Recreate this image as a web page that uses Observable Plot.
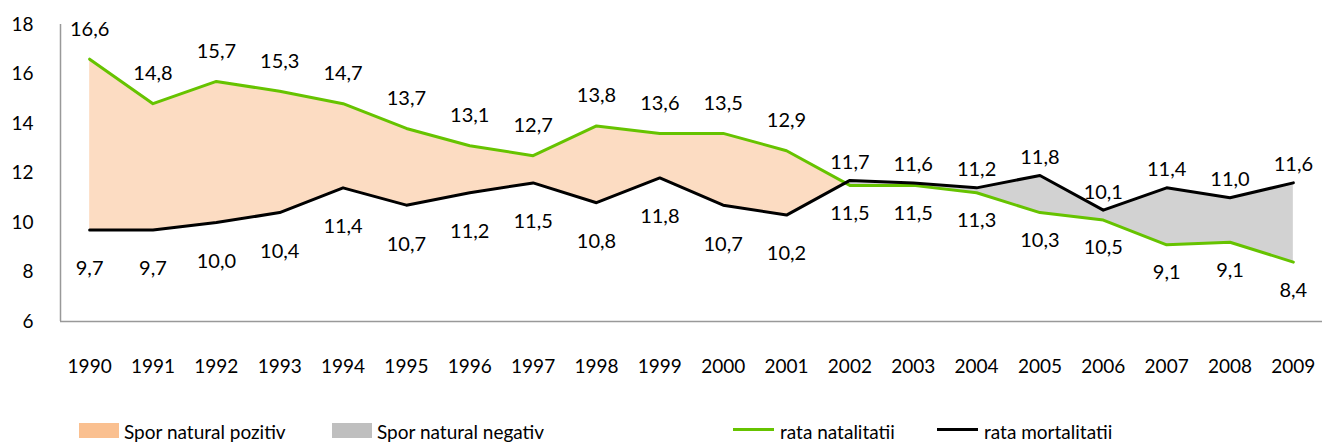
<!DOCTYPE html>
<html><head><meta charset="utf-8">
<script src="https://cdn.jsdelivr.net/npm/d3@7"></script>
<script src="https://cdn.jsdelivr.net/npm/@observablehq/plot@0.6"></script>
<style>
body{margin:0;background:#fff;font-family:Lato,"Open Sans",sans-serif;}
#chart{width:1330px;height:400px;}
#legend{position:relative;width:1330px;height:46px;font-size:19px;color:#000;}
#legend .sw{position:absolute;}
#legend .tx{position:absolute;top:10px;white-space:nowrap;line-height:24px;}
</style></head>
<body>
<div id="chart"></div>
<div id="legend"></div>
<script>
const years = [1990,1991,1992,1993,1994,1995,1996,1997,1998,1999,2000,2001,2002,2003,2004,2005,2006,2007,2008,2009];
const natalitate = [16.6,14.8,15.7,15.3,14.8,13.8,13.1,12.7,13.9,13.6,13.6,12.9,11.5,11.5,11.2,10.4,10.1,9.1,9.2,8.4];
const mortalitate = [9.7,9.7,10.0,10.4,11.4,10.7,11.2,11.6,10.8,11.8,10.7,10.3,11.7,11.6,11.4,11.9,10.5,11.4,11.0,11.6];
const labelsTop = ["16,6","14,8","15,7","15,3","14,7","13,7","13,1","12,7","13,8","13,6","13,5","12,9","11,7","11,6","11,2","11,8","10,1","11,4","11,0","11,6"];
const labelsBottom = ["9,7","9,7","10,0","10,4","11,4","10,7","11,2","11,5","10,8","11,8","10,7","10,2","11,5","11,5","11,3","10,3","10,5","9,1","9,1","8,4"];
const seriesNames = ["Spor natural pozitiv","Spor natural negativ","rata natalitatii","rata mortalitatii"];
const yTicks = [6,8,10,12,14,16,18];

const colPos = "#FAC090", colNeg = "#BFBFBF", colNat = "#66C300", colMort = "#000000";

const rows = years.map((y,i)=>({year:y, nat:natalitate[i], mort:mortalitate[i], top:labelsTop[i], bottom:labelsBottom[i]}));
// dense series with crossing points for the fills
const dense = [];
for (let i=0;i<rows.length;i++){
  const a = rows[i]; dense.push(a);
  if (i<rows.length-1){
    const b = rows[i+1];
    const da = a.nat-a.mort, db = b.nat-b.mort;
    if (da*db<0){
      const t = da/(da-db);
      const v = a.nat + t*(b.nat-a.nat);
      dense.push({year:a.year + t*(b.year-a.year), nat:v, mort:v});
    }
  }
}
const pos = rows.filter(d=>d.nat>d.mort);
const neg = rows.filter(d=>d.nat<=d.mort);

const chart = Plot.plot({
  width:1330, height:400,
  marginLeft:60, marginRight:8, marginTop:24, marginBottom:79,
  style:{fontFamily:"Lato, 'Open Sans', sans-serif", fontSize:"19px", color:"#000", background:"#fff"},
  x:{type:"linear", domain:[1989.54, 2009.46]},
  y:{domain:[6,18]},
  marks:[
    Plot.areaY(dense,{x:"year", y1:"mort", y2:d=>Math.max(d.nat,d.mort), fill:colPos, fillOpacity:0.55}),
    Plot.areaY(dense,{x:"year", y1:"nat", y2:d=>Math.max(d.nat,d.mort), fill:colNeg, fillOpacity:0.7}),
    Plot.ruleX([1989.54],{stroke:"#999", strokeWidth:1.5}),
    Plot.ruleY([6],{stroke:"#999", strokeWidth:1.5}),
    Plot.axisY({ticks:yTicks, tickSize:0, tickPadding:27, fontSize:19, label:null}),
    Plot.axisX({ticks:years, tickFormat:d=>String(d), tickSize:0, tickPadding:38, fontSize:19, label:null}),
    Plot.lineY(rows,{x:"year", y:"nat", stroke:colNat, strokeWidth:3}),
    Plot.lineY(rows,{x:"year", y:"mort", stroke:colMort, strokeWidth:3}),
    Plot.text(pos,{x:"year", y:d=>Math.max(d.nat,d.mort), text:"top", dy:-30, fontSize:20, fill:"#000"}),
    Plot.text(neg,{x:"year", y:d=>Math.max(d.nat,d.mort), text:"top", dy:-18, fontSize:20, fill:"#000"}),
    Plot.text(pos,{x:"year", y:d=>Math.min(d.nat,d.mort), text:"bottom", dy:39, fontSize:20, fill:"#000"}),
    Plot.text(neg,{x:"year", y:d=>Math.min(d.nat,d.mort), text:"bottom", dy:28, fontSize:20, fill:"#000"})
  ]
});
document.getElementById("chart").appendChild(chart);

// legend
const legend = document.getElementById("legend");
const items = [
  {name:seriesNames[0], kind:"box", color:colPos, x:79, tx:124},
  {name:seriesNames[1], kind:"box", color:colNeg, x:332, tx:377},
  {name:seriesNames[2], kind:"line", color:colNat, x:733, tx:780},
  {name:seriesNames[3], kind:"line", color:colMort, x:937, tx:984}
];
items.forEach(it=>{
  const sw = document.createElement("div");
  sw.className = "sw";
  sw.style.left = it.x+"px";
  sw.style.background = it.color;
  if (it.kind==="box"){ sw.style.top="23px"; sw.style.width="40px"; sw.style.height="15px"; }
  else { sw.style.top="28px"; sw.style.width="41px"; sw.style.height="3px"; }
  legend.appendChild(sw);
  const tx = document.createElement("div");
  tx.className = "tx"; tx.style.left = it.tx+"px"; tx.style.top="20px";
  tx.textContent = it.name;
  legend.appendChild(tx);
});
</script>
</body></html>
